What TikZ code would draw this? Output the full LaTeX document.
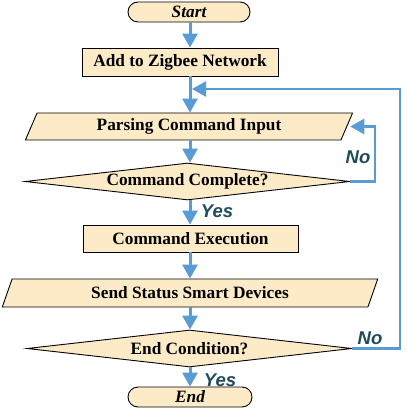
\documentclass[tikz,border=0pt]{standalone}
\usepackage{fontspec}
\setmainfont{Liberation Serif}
\setsansfont{Liberation Sans}
\usetikzlibrary{shapes.geometric,shapes.misc,arrows.meta}
\definecolor{boxfill}{HTML}{FDEBC8}
\definecolor{flow}{HTML}{5B9BD5}
\definecolor{lbl}{HTML}{1F4B5A}
\tikzset{
  base/.style={draw=black, line width=0.9pt, fill=boxfill, inner sep=0pt, font=\fontsize{17.3}{19}\selectfont\bfseries},
  proc/.style={base, rectangle},
  term/.style={base, rounded rectangle, font=\fontsize{17.3}{19}\selectfont\bfseries\itshape},
  io/.style={base, trapezium, trapezium left angle=66, trapezium right angle=114, trapezium stretches=true},
  dec/.style={base, diamond, aspect=8.8},
  flowline/.style={draw=flow, line width=3pt, -{Triangle[length=14pt,width=15pt]}},
  loopline/.style={draw=flow, line width=2.5pt, -{Triangle[length=14pt,width=15pt]}},
  yn/.style={text=lbl, font=\fontsize{18.5}{20}\selectfont\sffamily\bfseries\itshape, inner sep=0pt}
}
\begin{document}
\begin{tikzpicture}[x=1pt,y=-1pt]
\useasboundingbox (0,0) rectangle (406,411);
\node[term, minimum width=122pt, minimum height=20pt] (start) at (189,12) {Start};
\node[proc, minimum width=196pt, minimum height=28pt] (add) at (180,62) {Add to Zigbee Network};
\node[io, minimum width=328pt, minimum height=27pt] (parse) at (189,126.5) {Parsing Command Input};
\node[dec, minimum width=325pt, minimum height=37pt] (cc) at (187.5,181.5) {Command Complete?};
\node[proc, minimum width=215pt, minimum height=27pt] (exec) at (190.5,238.5) {Command Execution};
\node[io, minimum width=376pt, minimum height=28pt] (send) at (190,293) {Send Status Smart Devices};
\node[dec, minimum width=325pt, minimum height=37pt] (ec) at (189.5,348.5) {End Condition?};
\node[term, minimum width=124pt, minimum height=20pt] (end) at (190,397) {End};
\coordinate (merge) at (190,89);
\coordinate (rloop) at (400,348.5);
\coordinate (nloop) at (375,181.5);
% main flow
\draw[flowline] (start.south -| merge) -- (merge |- add.north);
\draw[flowline] (merge |- add.south) -- (merge |- parse.north);
\draw[flowline] (merge |- parse.south) -- (merge |- cc.north);
\draw[flowline] (merge |- cc.south) -- (merge |- exec.north);
\draw[flowline] (merge |- exec.south) -- (merge |- send.north);
\draw[flowline] (merge |- send.south) -- (merge |- ec.north);
\draw[flowline] (merge |- ec.south) -- (merge |- end.north);
% loops
\draw[loopline] (cc.east) -- (nloop) |- ([xshift=3pt]parse.east);
\draw[loopline] (ec.east) -- (rloop) |- ([xshift=2pt]merge);
% labels
\node[yn] (no1) at (358,157) {No};
\node[yn] (yes1) at (217,211) {Yes};
\node[yn] (no2) at (370,338) {No};
\node[yn] (yes2) at (220,380) {Yes};
\end{tikzpicture}
\end{document}
